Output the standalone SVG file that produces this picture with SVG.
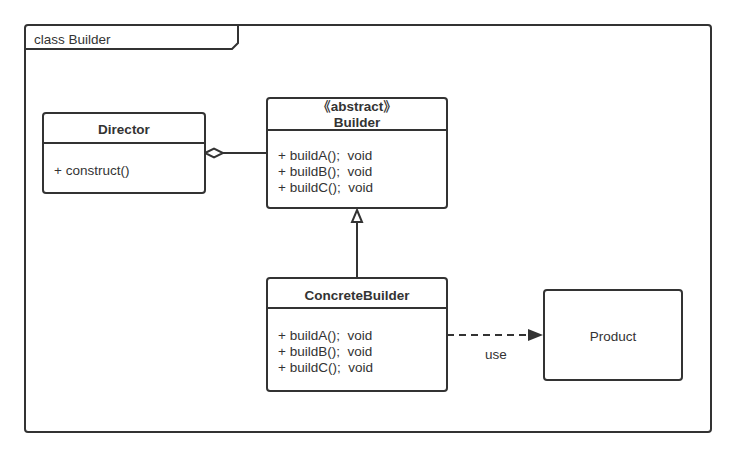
<svg xmlns="http://www.w3.org/2000/svg" width="736" height="457" viewBox="0 0 736 457">
<style>
.box{fill:#fff;stroke:#333;stroke-width:2}
.ln{fill:none;stroke:#333;stroke-width:2}
text{font-family:"Liberation Sans","Noto Sans CJK SC",sans-serif;font-size:13.5px;fill:#333;white-space:pre}
.b{font-weight:bold}
.c{text-anchor:middle}
</style>
<defs>
<marker id="arr" markerWidth="16" markerHeight="12" refX="15" refY="6" orient="auto" markerUnits="userSpaceOnUse">
<path d="M0,0 L15,6 L0,12 Z" fill="#333"/>
</marker>
</defs>
<rect width="736" height="457" fill="#fff"/>
<g id="frame">
<rect x="25" y="25" width="686" height="407" rx="3" class="box"/>
<path d="M25,49 L232,49 L238,43 L238,25" class="ln"/>
<text x="34" y="44">class Builder</text>
</g>
<g id="connectors">
<line x1="223" y1="153" x2="267" y2="153" class="ln"/>
<path d="M205,153 L214,148.5 L223,153 L214,157.5 Z" fill="#fff" stroke="#333" stroke-width="2"/>
<line x1="357" y1="222" x2="357" y2="278" class="ln"/>
<path d="M357,210 L362,222 L352,222 Z" fill="#fff" stroke="#333" stroke-width="2"/>
<line x1="447" y1="335" x2="543" y2="335" class="ln" stroke-dasharray="7,5" marker-end="url(#arr)"/>
<text x="496" y="359" class="c">use</text>
</g>
<g id="director">
<rect x="43" y="113" width="162" height="80" rx="3" class="box"/>
<line x1="43" y1="143" x2="205" y2="143" class="ln"/>
<text x="124" y="134" class="b c">Director</text>
<text x="54" y="175">+ construct()</text>
</g>
<g id="builder">
<rect x="267" y="98" width="180" height="110" rx="3" class="box"/>
<line x1="267" y1="130" x2="447" y2="130" class="ln"/>
<text x="357" y="111" class="b c">《abstract》</text>
<text x="357" y="127" class="b c">Builder</text>
<text x="278" y="160" xml:space="preserve">+ buildA();  void</text>
<text x="278" y="176" xml:space="preserve">+ buildB();  void</text>
<text x="278" y="192" xml:space="preserve">+ buildC();  void</text>
</g>
<g id="concretebuilder">
<rect x="267" y="278" width="180" height="113" rx="3" class="box"/>
<line x1="267" y1="308" x2="447" y2="308" class="ln"/>
<text x="357" y="300" class="b c">ConcreteBuilder</text>
<text x="278" y="340" xml:space="preserve">+ buildA();  void</text>
<text x="278" y="356" xml:space="preserve">+ buildB();  void</text>
<text x="278" y="372" xml:space="preserve">+ buildC();  void</text>
</g>
<g id="product">
<rect x="544" y="290" width="138" height="90" rx="3" class="box"/>
<text x="613" y="341" class="c">Product</text>
</g>
</svg>
